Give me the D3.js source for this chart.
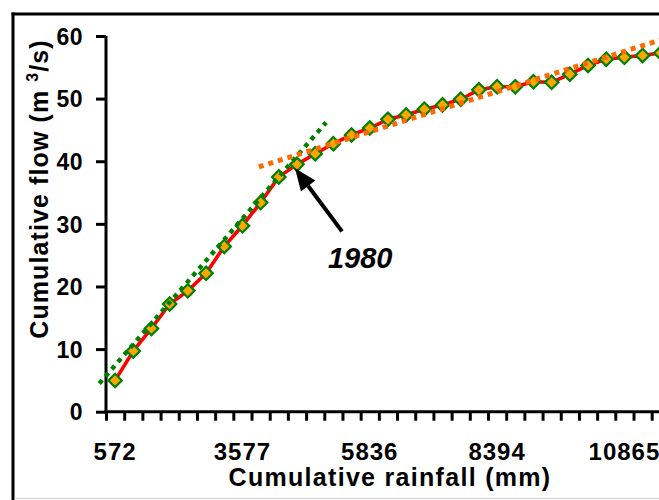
<!DOCTYPE html>
<html><head><meta charset="utf-8">
<script src="https://cdn.jsdelivr.net/npm/d3@7"></script>
<style>
html,body{margin:0;padding:0;background:#fff;}
svg{display:block;}
text{font-family:"Liberation Sans",Arial,sans-serif;font-weight:bold;fill:#000;}
</style></head>
<body>
<svg id="chart" width="659" height="500"></svg>
<script>
// ---- data ----
const years_list = [1970,1971,1972,1973,1974,1975,1976,1977,1978,1979,1980,1981,1982,1983,1984,1985,1986,1987,1988,1989,1990,1991,1992,1993,1994,1995,1996,1997,1998,1999,2000];
const cumFlow = [5.0,9.7,13.3,17.2,19.3,22.1,26.4,29.7,33.4,37.5,39.5,41.2,42.8,44.2,45.3,46.7,47.4,48.3,49.0,49.9,51.4,51.9,51.9,52.7,52.6,53.9,55.3,56.3,56.6,56.9,57.3];
const tickYears = [1970,1977,1984,1991,1998];
const tickLabels = ["572","3577","5836","8394","10865"];
const yTicks = [0,10,20,30,40,50,60];
// trend lines: [category position, value] end points
const trendEarly = [[-0.87,4.5],[11.6,46.2]];
const trendLate = [[7.9,39.1],[31.0,60.3]];
const annotYear = 1980;

// ---- layout ----
const svg = d3.select("#chart");
const nCat = years_list.length;
const x0 = 106, catW = 18.19;
const xLin = d3.scaleLinear().domain([0, nCat]).range([x0, x0 + nCat*catW]);
const xc = i => xLin(i + 0.5);
const y = d3.scaleLinear().domain([0, 60]).range([411.7, 36]);

// frame
svg.append("line").attr("x1",13).attr("x2",13).attr("y1",12.5).attr("y2",500).attr("stroke","#000").attr("stroke-width",3);
svg.append("line").attr("x1",11.5).attr("x2",659).attr("y1",14).attr("y2",14).attr("stroke","#000").attr("stroke-width",3);
svg.append("line").attr("x1",14.5).attr("x2",659).attr("y1",498.5).attr("y2",498.5).attr("stroke","#d0d0d0").attr("stroke-width",1);

// y axis
const yAx = svg.append("g").attr("transform",`translate(${x0},0)`)
  .call(d3.axisLeft(y).tickValues(yTicks).tickSize(10).tickPadding(13).tickFormat(d3.format("d")));
yAx.select(".domain").attr("stroke","#000").attr("stroke-width",3).attr("d",`M0,${y(0)+1.5}V${y(60)}`);
yAx.selectAll(".tick line").attr("stroke","#000").attr("stroke-width",3);
yAx.selectAll(".tick text").style("font-size","23px").style("font-family","Liberation Sans, Arial").style("font-weight","bold").style("letter-spacing","0.5px").attr("dy","0.36em");

// x axis (ticks at category boundaries)
const xAx = svg.append("g").attr("transform",`translate(0,${y(0)})`)
  .call(d3.axisBottom(xLin).tickValues(d3.range(0, nCat+1)).tickSize(9).tickFormat(""));
xAx.select(".domain").attr("stroke","#000").attr("stroke-width",3).attr("d",`M${x0-1.5},0H${xLin(nCat)}`);
xAx.selectAll(".tick line").attr("stroke","#000").attr("stroke-width",3);

// x labels at category centres
const xLabScale = d3.scaleOrdinal().domain(tickYears).range(tickLabels);
const xPos = d3.scaleBand().domain(years_list).range([x0, x0 + nCat*catW]).padding(0);
const xLab = svg.append("g").attr("transform",`translate(0,${y(0)})`)
  .call(d3.axisBottom(xPos).tickValues(tickYears).tickSize(0).tickPadding(31).tickFormat(d => xLabScale(d)));
xLab.select(".domain").remove();
xLab.selectAll(".tick text").style("font-size","24px").style("font-family","Liberation Sans, Arial").style("font-weight","bold").style("letter-spacing","1px");

// axis titles
svg.append("text").attr("x", 390).attr("y", 486).attr("text-anchor","middle")
  .style("font-size","25px").style("letter-spacing","1.3px").text("Cumulative rainfall (mm)");
const yt = svg.append("text").attr("transform","translate(48,189) rotate(-90)").attr("text-anchor","middle")
  .style("font-size","25px").style("letter-spacing","1.1px");
yt.append("tspan").text("Cumulative flow (m ");
yt.append("tspan").attr("dy","-10").style("font-size","16px").text("3");
yt.append("tspan").attr("dy","10").text("/s)");

// series line
const line = d3.line().x((d,i)=>xc(i)).y(d=>y(d));
svg.append("path").datum(cumFlow).attr("d", line).attr("fill","none").attr("stroke","#FF0000").attr("stroke-width",3.6).attr("stroke-linejoin","round");

// markers
svg.append("g").selectAll("path").data(cumFlow).join("path")
  .attr("transform",(d,i)=>`translate(${xc(i)},${y(d)}) rotate(45)`)
  .attr("d", d3.symbol(d3.symbolSquare, 90)())
  .attr("fill","#FFA500").attr("stroke","#008000").attr("stroke-width",2.2);

// trend lines
const tl = d3.line().x(d=>xc(d[0])).y(d=>y(d[1]));
svg.append("path").datum(trendEarly).attr("d", tl).attr("fill","none").attr("stroke","#008000").attr("stroke-width",4.5).attr("stroke-dasharray","4.5,5");
svg.append("path").datum(trendLate).attr("d", tl).attr("fill","none").attr("stroke","#FF6A00").attr("stroke-width",5).attr("stroke-dasharray","5,5");

// annotation
const ai = years_list.indexOf(annotYear);
const px = xc(ai), py = y(cumFlow[ai]);
const tip = [px-2, py+4], tail = [px+45, py+67];
const ang = Math.atan2(tail[1]-tip[1], tail[0]-tip[0]);
const hl = 22, hw = 9;
const bx = tip[0]+hl*Math.cos(ang), by = tip[1]+hl*Math.sin(ang);
svg.append("line").attr("x1",bx).attr("y1",by).attr("x2",tail[0]).attr("y2",tail[1]).attr("stroke","#000").attr("stroke-width",4);
svg.append("path").attr("d",`M${tip[0]},${tip[1]}L${bx+hw*Math.sin(ang)},${by-hw*Math.cos(ang)}L${bx-hw*Math.sin(ang)},${by+hw*Math.cos(ang)}Z`).attr("fill","#000");
svg.append("text").attr("x", px+31).attr("y", py+104).style("font-size","29px").style("font-style","italic").text(String(annotYear));
</script>
</body></html>
